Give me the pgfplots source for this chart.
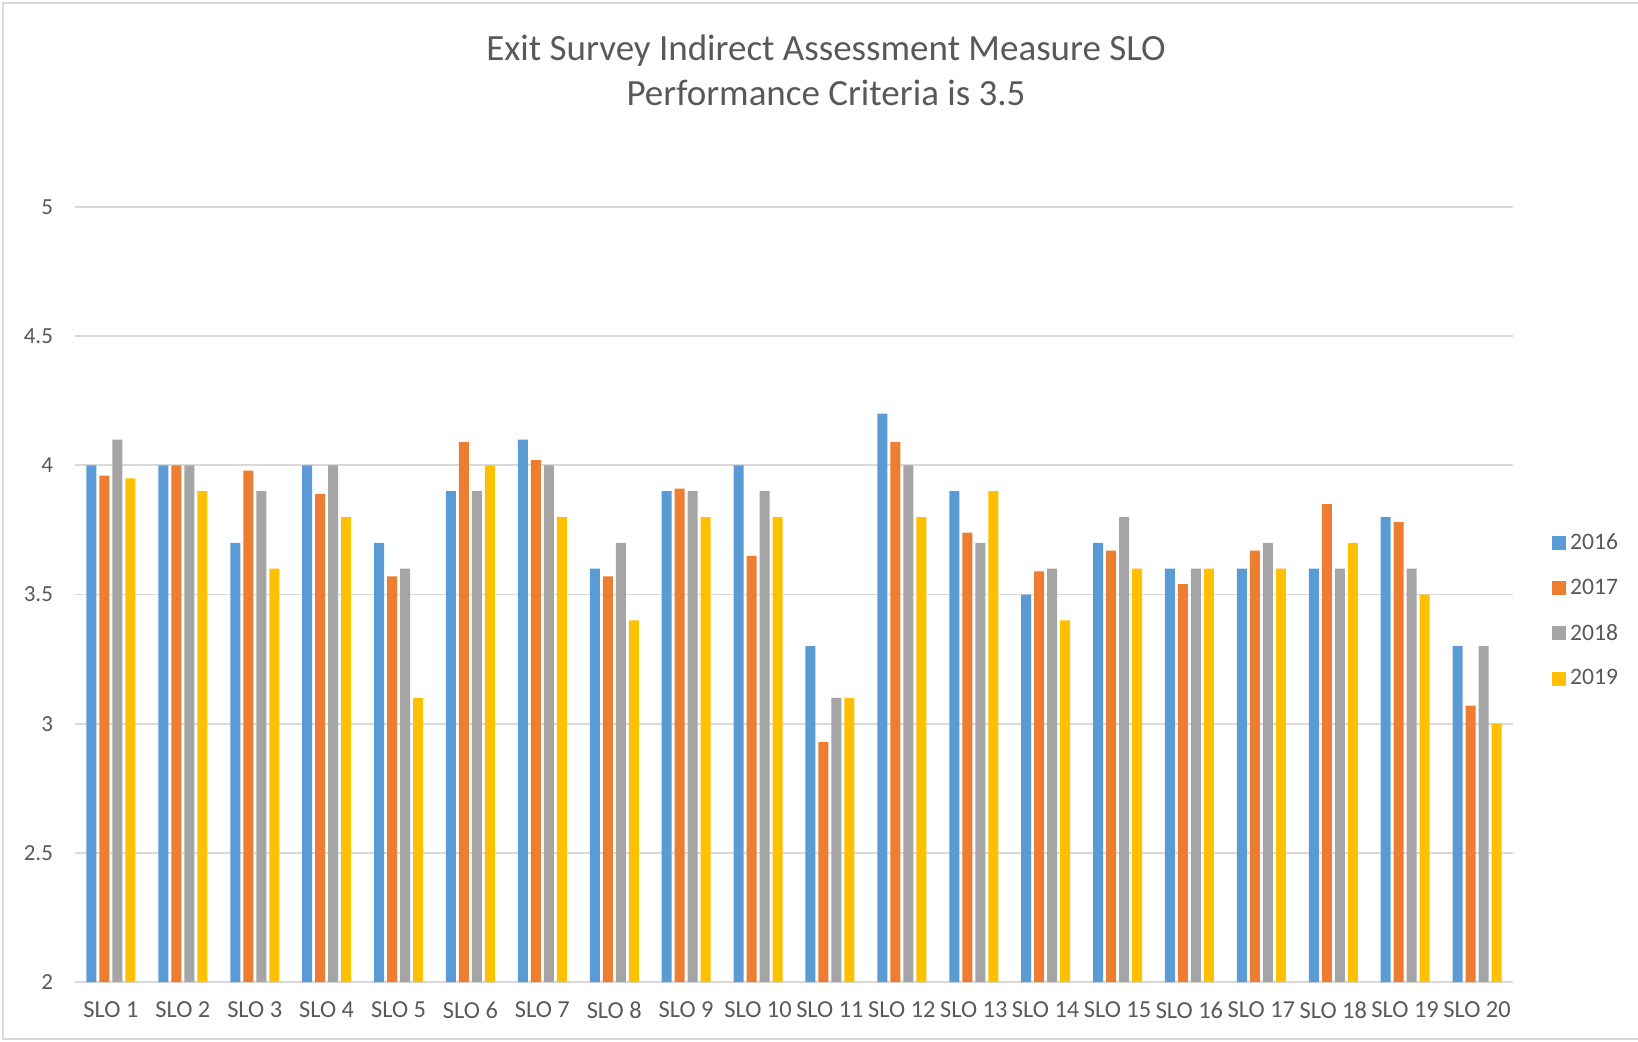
\documentclass[border=0pt]{standalone}
\usepackage{pgfplots}
\pgfplotsset{compat=1.18}
\usepackage{pgfplotstable}
\usepackage{fontspec}
\setmainfont{Carlito}
\definecolor{cA}{HTML}{5B9BD5}
\definecolor{cB}{HTML}{ED7D31}
\definecolor{cC}{HTML}{A5A5A5}
\definecolor{cD}{HTML}{FFC000}
\definecolor{txt}{HTML}{595959}
\definecolor{gridc}{HTML}{D9D9D9}
\pgfplotstableread{
x y16 y17 y18 y19
1 4.00 3.96 4.10 3.95
2 4.00 4.00 4.00 3.90
3 3.70 3.98 3.90 3.60
4 4.00 3.89 4.00 3.80
5 3.70 3.57 3.60 3.10
6 3.90 4.09 3.90 4.00
7 4.10 4.02 4.00 3.80
8 3.60 3.57 3.70 3.40
9 3.90 3.91 3.90 3.80
10 4.00 3.65 3.90 3.80
11 3.30 2.93 3.10 3.10
12 4.20 4.09 4.00 3.80
13 3.90 3.74 3.70 3.90
14 3.50 3.59 3.60 3.40
15 3.70 3.67 3.80 3.60
16 3.60 3.54 3.60 3.60
17 3.60 3.67 3.70 3.60
18 3.60 3.85 3.60 3.70
19 3.80 3.78 3.60 3.50
20 3.30 3.07 3.30 3.00
}\datatable
\begin{document}
\begin{tikzpicture}[x=1pt,y=1pt]
\path[use as bounding box] (0,0) rectangle (819,520.5);
\draw[gridc, line width=0.8pt] (819,519) -- (1.5,519) -- (1.5,1) -- (819,1);
\node[txt, font=\fontsize{18.5}{22.5}\selectfont, align=center] at (413,485.5)
  {Exit Survey Indirect Assessment Measure SLO\\Performance Criteria is 3.5};
\begin{axis}[
  at={(37.5pt,29.5pt)}, anchor=south west,
  scale only axis, width=719pt, height=387.5pt,
  xmin=0.5, xmax=20.5, ymin=2, ymax=5,
  ytick={2,2.5,3,3.5,4,4.5,5},
  xtick={1,...,20},
  xticklabels={SLO 1,SLO 2,SLO 3,SLO 4,SLO 5,SLO 6,SLO 7,SLO 8,SLO 9,SLO 10,SLO 11,SLO 12,SLO 13,SLO 14,SLO 15,SLO 16,SLO 17,SLO 18,SLO 19,SLO 20},
  ybar=1.5pt, bar width=5pt,
  axis line style={draw=none},
  major tick length=0pt,
  ymajorgrids, grid style={gridc, line width=0.9pt},
  /pgf/number format/assume math mode=true,
  tick label style={font=\fontsize{11.5}{13}\selectfont, text=txt},
  yticklabel style={xshift=-7.5pt},
  xticklabel style={yshift=-6.5pt, font=\fontsize{12.2}{13}\selectfont},
  legend style={at={(axis description cs:1.027,0.479)}, anchor=west, draw=none, fill=none,
    font=\fontsize{11.8}{13}\selectfont, text=txt, row sep=9.2pt, inner sep=0pt},
  legend cell align=left,
  legend image code/.code={\fill[#1] (0pt,-3.5pt) rectangle (7pt,3.5pt);},
]
\addplot[fill=cA, draw=none] table[x=x,y=y16] {\datatable};
\addplot[fill=cB, draw=none] table[x=x,y=y17] {\datatable};
\addplot[fill=cC, draw=none] table[x=x,y=y18] {\datatable};
\addplot[fill=cD, draw=none] table[x=x,y=y19] {\datatable};
\legend{2016,2017,2018,2019}
\end{axis}
\end{tikzpicture}
\end{document}
